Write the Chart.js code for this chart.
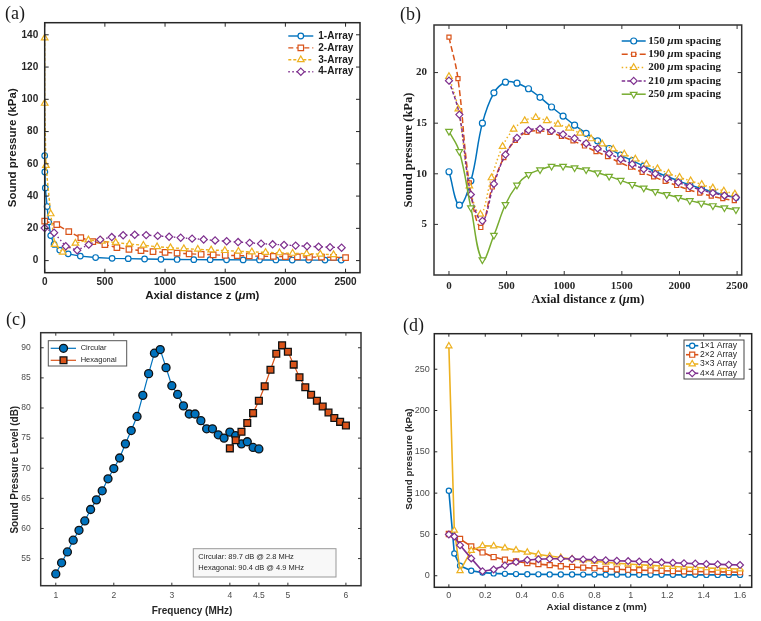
<!DOCTYPE html>
<html><head><meta charset="utf-8">
<script src="https://cdn.jsdelivr.net/npm/chart.js@4.4.1/dist/chart.umd.min.js"></script>
<style>
html,body{margin:0;padding:0;background:#fff;}
#wrap{position:relative;width:761px;height:621px;overflow:hidden;background:#fff;}
canvas{position:absolute;}
</style></head><body>
<div id="wrap">
<canvas id="ca" style="left:0;top:0;" width="380" height="310"></canvas>
<canvas id="cb" style="left:380px;top:0;" width="381" height="310"></canvas>
<canvas id="cc" style="left:0;top:310px;" width="380" height="311"></canvas>
<canvas id="cd" style="left:380px;top:310px;" width="381" height="311"></canvas>
</div>
<script>
// ---------- DATA ----------
// (a) sound pressure (kPa) vs axial distance (um)
const aX1 = [0,1,5,20,33,50,78,125,195,296,423,560,694,830,966,1100,1239,1375,1511,1649,1785,1921,2057,2193,2329,2464];
const aY1 = [65,55,45,33.5,24,15.5,10,6.5,4.2,2.8,1.9,1.4,1.2,1.0,0.8,0.7,0.6,0.55,0.5,0.45,0.4,0.4,0.35,0.3,0.3,0.3];
const aX2 = [0,100,200,300,400,500,600,700,800,900,1000,1100,1200,1300,1400,1500,1600,1700,1800,1900,2000,2100,2200,2300,2400,2500];
const aY2 = [24.5,22.3,18,14.2,11.8,9.9,8.1,7,6.2,5.6,5.1,4.6,4.2,3.9,3.6,3.3,3.1,2.9,2.7,2.6,2.5,2.3,2.2,2.1,2.0,1.9];
const aX3 = [0,0,10,50,83,150,255,363,474,590,704,820,934,1045,1156,1272,1383,1497,1610,1721,1835,1951,2060,2176,2290,2400];
const aY3 = [138,97.5,59,29,10,5.2,10.8,12.8,12,11.2,10.3,9.5,8.6,8,7.4,7,6.6,6.2,5.8,5.4,5.1,4.8,4.5,4.3,4,3.7];
const aX4 = [0,78,175,270,366,461,557,652,748,843,939,1034,1130,1225,1321,1416,1512,1607,1703,1798,1894,1989,2085,2180,2276,2371,2467];
const aY4 = [20.2,17.3,8.9,6.4,9.9,13,14.6,15.7,16,15.8,15.3,14.8,14.2,13.6,13.1,12.5,12,11.5,11,10.5,10.1,9.7,9.3,8.9,8.6,8.3,8.0];
const aNames = ['1-Array','2-Array','3-Array','4-Array'];
const aTicksX = [0,500,1000,1500,2000,2500];
const aTicksY = [0,20,40,60,80,100,120,140];

// (b) spacing comparison
const bXa = [0,90,190,290,390,490,590,690,790,890,990,1090,1190,1290,1390,1490,1590,1690,1790,1890,1990,2090,2190,2290,2390,2490];
const b150 = [10.2,6.9,9.3,15.0,18.0,19.05,18.95,18.4,17.55,16.6,15.7,14.8,14.0,13.25,12.5,11.85,11.3,10.75,10.2,9.75,9.3,8.9,8.55,8.2,7.9,7.65];
const b190x = [0,78,176,276,376,476,576,676,776,876,976,1076,1176,1276,1376,1476,1576,1676,1776,1876,1976,2076,2176,2276,2376,2476];
const b190 = [23.5,19.4,9.1,4.7,8.7,11.6,13.3,14.1,14.25,14.1,13.7,13.25,12.75,12.2,11.7,11.15,10.65,10.15,9.7,9.25,8.85,8.45,8.1,7.8,7.55,7.35];
const b200x = [0,81,177,273,369,465,561,657,753,849,945,1041,1137,1233,1329,1425,1521,1617,1713,1809,1905,2001,2097,2193,2289,2385,2481];
const b200 = [19.6,16.4,8.8,6.0,9.6,12.7,14.4,15.25,15.55,15.25,14.9,14.5,14.0,13.45,12.95,12.45,11.95,11.45,10.95,10.5,10.05,9.65,9.3,8.95,8.6,8.3,8.0];
const b210 = [19.2,15.85,7.95,5.35,9.0,11.9,13.55,14.3,14.45,14.25,13.9,13.5,13.0,12.5,12.0,11.45,10.95,10.45,10.0,9.55,9.15,8.75,8.4,8.1,7.85,7.65];
const b250 = [14.2,12.2,6.65,1.5,3.93,6.96,8.88,9.93,10.4,10.75,10.75,10.6,10.4,10.1,9.75,9.35,8.95,8.6,8.25,7.95,7.65,7.35,7.1,6.85,6.65,6.45];
const bSpacings = ['150','190','200','210','250'];
const bTicksX = [0,500,1000,1500,2000,2500];
const bTicksY = [5,10,15,20];

// (c) SPL vs frequency
const cFreqC = [1.0,1.1,1.2,1.3,1.4,1.5,1.6,1.7,1.8,1.9,2.0,2.1,2.2,2.3,2.4,2.5,2.6,2.7,2.8,2.9,3.0,3.1,3.2,3.3,3.4,3.5,3.6,3.7,3.8,3.9,4.0,4.1,4.2,4.3,4.4,4.5];
const cSplC = [52.45,54.3,56.1,58.05,59.7,61.25,63.15,64.75,66.25,68.25,69.95,71.7,74.05,76.25,78.6,82.1,85.7,89.1,89.7,86.7,83.7,82.25,80.35,79.0,79.0,77.9,76.55,76.55,75.55,75.0,76.0,75.4,74.05,74.4,73.45,73.2];
const cFreqH = [4.0,4.1,4.2,4.3,4.4,4.5,4.6,4.7,4.8,4.9,5.0,5.1,5.2,5.3,5.4,5.5,5.6,5.7,5.8,5.9,6.0];
const cSplH = [73.3,74.65,76.05,77.5,79.15,81.2,83.6,86.35,89.0,90.4,89.35,87.2,85.1,83.45,82.2,81.2,80.25,79.25,78.35,77.7,77.1];
const cNames = ['Circular','Hexagonal'];
const cNotes = ['Circular: 89.7 dB @ 2.8 MHz','Hexagonal: 90.4 dB @ 4.9 MHz'];
const cTicksX = [1,2,3,4,4.5,5,6];
const cTicksY = [55,60,65,70,75,80,85,90];

// (d) arrays, axial distance in mm
const dXa = [0,0.03,0.0615,0.123,0.185,0.246,0.308,0.369,0.431,0.492,0.554,0.615,0.677,0.738,0.8,0.862,0.923,0.985,1.046,1.108,1.169,1.231,1.292,1.354,1.415,1.477,1.538,1.6];
const dXb = [0,0.0615,0.123,0.185,0.246,0.308,0.369,0.431,0.492,0.554,0.615,0.677,0.738,0.8,0.862,0.923,0.985,1.046,1.108,1.169,1.231,1.292,1.354,1.415,1.477,1.538,1.6];
const d11 = [102.8,27,12,6,3.8,2.8,2.3,2,1.8,1.7,1.6,1.5,1.5,1.4,1.4,1.3,1.3,1.3,1.2,1.2,1.2,1.1,1.1,1.1,1.0,1.0,1.0,1.0];
const d22 = [50.5,44.5,35.5,28.2,22.6,19.4,17.4,15.4,14.0,12.8,11.5,10.6,9.8,9.1,8.4,7.8,7.3,6.8,6.4,6.0,5.7,5.4,5.1,4.9,4.7,4.5,4.3];
const d33 = [278,55,6,30.5,36.2,36,33.5,31,28.3,25.8,23.8,22,20.3,18.8,17.5,16.3,15.2,14.2,13.3,12.5,11.8,11.1,10.5,9.9,9.4,8.9,8.5,8.1];
const d44 = [50,47.5,37,21,5.5,7.5,12.5,16.5,19,20,20.5,20.5,20.2,19.8,19.3,18.8,18.2,17.7,17.2,16.7,16.2,15.7,15.2,14.7,14.2,13.8,13.4,13.0];
const dNames = ['1×1 Array','2×2 Array','3×3 Array','4×4 Array'];
const dTicksX = [0,0.2,0.4,0.6,0.8,1,1.2,1.4,1.6];
const dTicksY = [0,50,100,150,200,250];

// ---------- STYLE ----------
const FS = '"Liberation Sans", Arial, sans-serif';
const FT = '"Liberation Serif", "Times New Roman", serif';
const C = {blue:'#0072BD', orange:'#D95319', yellow:'#EDB120', purple:'#7E2F8E', green:'#77AC30'};

function pts(xs, ys){ return xs.map((x,i)=>({x:x, y:ys[i]})); }
function fmt(v){ return String(Math.round(v*1000)/1000); }

function mark(ctx, st, x, y, r, down){
  ctx.beginPath();
  if (st==='circle') ctx.arc(x,y,r,0,Math.PI*2);
  else if (st==='rect'){ const s=r*Math.SQRT1_2; ctx.rect(x-s,y-s,2*s,2*s); }
  else if (st==='rectRot'){ ctx.moveTo(x,y-r); ctx.lineTo(x+r,y); ctx.lineTo(x,y+r); ctx.lineTo(x-r,y); ctx.closePath(); }
  else if (st==='triangle'){ const d = down?Math.PI:0; for(let k=0;k<3;k++){ const an=d+k*2*Math.PI/3; const px=x+Math.sin(an)*r, py=y-Math.cos(an)*r; if(k) ctx.lineTo(px,py); else ctx.moveTo(px,py);} ctx.closePath(); }
}
function richW(ctx, parts){ let w=0; for(const p of parts){ ctx.font=p.f; w+=ctx.measureText(p.t).width; } return w; }
function drawRich(ctx, parts, x, y, opts){
  ctx.save(); ctx.translate(x,y); if(opts.rot) ctx.rotate(-Math.PI/2);
  ctx.fillStyle=opts.color; ctx.textBaseline='middle'; ctx.textAlign='left';
  let cx = opts.center ? -richW(ctx,parts)/2 : 0;
  for(const p of parts){ ctx.font=p.f; ctx.fillText(p.t,cx,0); cx+=ctx.measureText(p.t).width; }
  ctx.restore();
}

const deco = {
  id:'deco',
  afterDraw(chart, args, o){
    const ctx = chart.ctx, a = chart.chartArea;
    ctx.save();
    ctx.setLineDash([]);
    // inward ticks
    ctx.strokeStyle = o.frame; ctx.lineWidth = 1;
    const tl = o.tickLen;
    const sx = chart.scales.x, sy = chart.scales.y;
    ctx.beginPath();
    sx.ticks.forEach(t=>{ const p=sx.getPixelForValue(t.value); ctx.moveTo(p,a.bottom); ctx.lineTo(p,a.bottom-tl); ctx.moveTo(p,a.top); ctx.lineTo(p,a.top+tl); });
    sy.ticks.forEach(t=>{ const p=sy.getPixelForValue(t.value); ctx.moveTo(a.left,p); ctx.lineTo(a.left+tl,p); ctx.moveTo(a.right,p); ctx.lineTo(a.right-tl,p); });
    ctx.stroke();
    // frame
    ctx.lineWidth = o.frameW;
    ctx.strokeRect(a.left, a.top, a.right-a.left, a.bottom-a.top);
    // legend
    const L = o.legend;
    if (L){
      if (L.box){ ctx.fillStyle=L.box.fill; ctx.fillRect(L.box.x,L.box.y,L.box.w,L.box.h); ctx.strokeStyle=L.box.stroke; ctx.lineWidth=L.box.lw; ctx.strokeRect(L.box.x,L.box.y,L.box.w,L.box.h); }
      L.entries.forEach((e,i)=>{
        const y = L.rows[i];
        ctx.strokeStyle=e.color; ctx.lineWidth=e.lw; ctx.setLineDash(e.dash||[]);
        ctx.beginPath(); ctx.moveTo(L.x1,y); ctx.lineTo(L.x2,y); ctx.stroke();
        ctx.setLineDash([]);
        mark(ctx, e.st, L.mx, y, e.r, e.down);
        ctx.fillStyle=e.fill; ctx.fill(); ctx.strokeStyle=e.edge; ctx.lineWidth=e.mlw; ctx.stroke();
        drawRich(ctx, e.parts, L.tx, y, {color:L.color});
      });
    }
    if (o.note){
      const n=o.note;
      ctx.fillStyle=n.fill; ctx.fillRect(n.x,n.y,n.w,n.h); ctx.strokeStyle=n.stroke; ctx.lineWidth=1; ctx.strokeRect(n.x,n.y,n.w,n.h);
      n.lines.forEach((t,i)=> drawRich(ctx,[{t:t,f:n.font}], n.tx, n.rows[i], {color:n.color}));
    }
    // titles
    drawRich(ctx, o.xTitle, o.xTitleX, o.xTitleY, {center:true, color:o.titleColor});
    drawRich(ctx, o.yTitle, o.yTitleX, o.yTitleY, {center:true, rot:true, color:o.titleColor});
    // panel label
    ctx.fillStyle='#1a1a1a'; ctx.font=o.labelFont; ctx.textAlign='left'; ctx.textBaseline='alphabetic';
    ctx.fillText(o.label, o.labelX, o.labelY);
    ctx.restore();
  }
};

function axis(min, max, ticksArr, font, color, pad, size, isX){
  return {
    type:'linear', min:min, max:max,
    grid:{display:false, drawTicks:false}, border:{display:false},
    afterBuildTicks: s => { s.ticks = ticksArr.map(v=>({value:v})); },
    afterFit: s => { if(isX) s.height=size; else s.width=size; },
    ticks:{font:font, color:color, padding:pad, maxRotation:0, autoSkip:false, callback:v=>fmt(v)}
  };
}
function ds(data, color, o){
  return Object.assign({
    data:data, borderColor:color, backgroundColor:color, borderWidth:1.5, borderDash:[],
    pointStyle:'circle', pointRadius:3, pointBorderWidth:1.2, pointBackgroundColor:'#fff', pointBorderColor:color,
    pointHoverRadius:3, tension:0, clip:false, fill:false
  }, o);
}
function make(id, datasets, scales, pad, decoOpts){
  datasets.forEach((d,i)=>{ d.order = datasets.length - i; });
  return new Chart(document.getElementById(id), {
    type:'line',
    data:{datasets:datasets},
    options:{
      responsive:false, animation:false, events:[], parsing:true,
      layout:{padding:pad},
      scales:scales,
      plugins:{legend:{display:false}, tooltip:{enabled:false}, deco:decoOpts}
    },
    plugins:[deco]
  });
}

// ---------- (a) ----------
{
  const tf = {family:FS, size:10, weight:'bold'};
  const titleF = 'bold 11.5px '+FS, titleI = 'italic bold 11.5px '+FS;
  const lf = 'bold 10px '+FS;
  const sty = [
    {color:C.blue, st:'circle', r:2.8, dash:[]},
    {color:C.orange, st:'rect', r:3.9, dash:[5,3]},
    {color:C.yellow, st:'triangle', r:3.8, dash:[3,2]},
    {color:C.purple, st:'rectRot', r:3.6, dash:[1.5,2.5]}
  ];
  const xs=[aX1,aX2,aX3,aX4], ys=[aY1,aY2,aY3,aY4];
  const sets = sty.map((s,i)=>ds(pts(xs[i],ys[i]), s.color, {pointStyle:s.st, pointRadius:s.r, borderDash:s.dash, borderWidth:1.4}));
  make('ca', sets, {
    x: axis(0, 2620, aTicksX, tf, '#262626', 3.5, 37.3, true),
    y: axis(-7.5, 147.5, aTicksY, tf, '#262626', 6.5, 44.7, false)
  }, {left:0, top:22.7, right:20, bottom:0}, {
    label:'(a)', labelX:5, labelY:19, labelFont:'18px '+FT,
    frame:'#262626', frameW:1.5, tickLen:4, titleColor:'#1a1a1a',
    xTitle:[{t:'Axial distance z (',f:titleF},{t:'μ',f:titleI},{t:'m)',f:titleF}], xTitleX:202.3, xTitleY:295.5,
    yTitle:[{t:'Sound pressure (kPa)',f:titleF}], yTitleX:12.5, yTitleY:147.7,
    legend:{x1:288.3, x2:313.3, mx:300.8, tx:318.3, rows:[36,47.9,59.8,71.7], color:'#1a1a1a',
      entries: sty.map((s,i)=>({color:s.color, lw:1.4, dash:s.dash, st:s.st, r:s.r, fill:'#fff', edge:s.color, mlw:1.2, parts:[{t:aNames[i], f:lf}]}))}
  });
}

// ---------- (b) ----------
{
  const tf = {family:FT, size:11, weight:'bold'};
  const titleF = 'bold 12.5px '+FT, titleI = 'italic bold 12.5px '+FT;
  const lf = 'bold 11px '+FT, li = 'italic bold 11px '+FT;
  const sty = [
    {color:C.blue, st:'circle', r:3, dash:[], down:false},
    {color:C.orange, st:'rect', r:2.9, dash:[6,3], down:false},
    {color:C.yellow, st:'triangle', r:3.8, dash:[1.5,2.5], down:false},
    {color:C.purple, st:'rectRot', r:3.5, dash:[3.5,2], down:false},
    {color:C.green, st:'triangle', r:3.8, dash:[], down:true}
  ];
  const xs=[bXa,b190x,b200x,bXa,bXa], ys=[b150,b190,b200,b210,b250];
  const sets = sty.map((s,i)=>ds(pts(xs[i],ys[i]), s.color, {pointStyle:s.st, pointRadius:s.r, pointRotation:s.down?180:0, borderDash:s.dash, borderWidth:1.5, tension:0.4}));
  make('cb', sets, {
    x: axis(-130, 2540, bTicksX, tf, '#262626', 5, 35, true),
    y: axis(0, 24.7, bTicksY, tf, '#262626', 7, 54, false)
  }, {left:0, top:25, right:19.3, bottom:0}, {
    label:'(b)', labelX:20, labelY:20, labelFont:'18px '+FT,
    frame:'#333333', frameW:1.5, tickLen:4, titleColor:'#1a1a1a',
    xTitle:[{t:'Axial distance z (',f:titleF},{t:'μ',f:titleI},{t:'m)',f:titleF}], xTitleX:207.9, xTitleY:299.5,
    yTitle:[{t:'Sound pressure (kPa)',f:titleF}], yTitleX:29, yTitleY:150,
    legend:{x1:241.7, x2:265.7, mx:253.7, tx:268.3, rows:[41,54.3,67.6,80.9,94.2], color:'#1a1a1a',
      entries: sty.map((s,i)=>({color:s.color, lw:1.5, dash:s.dash, st:s.st, r:s.r, down:s.down, fill:'#fff', edge:s.color, mlw:1.2,
        parts:[{t:bSpacings[i]+' ', f:lf},{t:'μ',f:li},{t:'m spacing',f:lf}]}))}
  });
}

// ---------- (c) ----------
{
  const tf = {family:FS, size:8.5};
  const titleF = 'bold 10px '+FS;
  const lf = '7.5px '+FS;
  const sets = [
    ds(pts(cFreqC,cSplC), C.blue, {pointStyle:'circle', pointRadius:4, pointBackgroundColor:C.blue, pointBorderColor:'#111', pointBorderWidth:1.3, borderWidth:1.2}),
    ds(pts(cFreqH,cSplH), C.orange, {pointStyle:'rect', pointRadius:4.8, pointBackgroundColor:C.orange, pointBorderColor:'#111', pointBorderWidth:1.3, borderWidth:1.2})
  ];
  make('cc', sets, {
    x: axis(0.74, 6.26, cTicksX, tf, '#4d4d4d', 5, 35.3, true),
    y: axis(50.5, 92.5, cTicksY, tf, '#4d4d4d', 10, 40.7, false)
  }, {left:0, top:22.7, right:19, bottom:0}, {
    label:'(c)', labelX:6, labelY:15, labelFont:'18px '+FT,
    frame:'#333333', frameW:1.5, tickLen:3, titleColor:'#262626',
    xTitle:[{t:'Frequency (MHz)',f:'bold 10px '+FS}], xTitleX:192, xTitleY:301.7,
    yTitle:[{t:'Sound Pressure Level (dB)',f:titleF}], yTitleX:15, yTitleY:159.7,
    legend:{box:{x:48.3,y:30.7,w:78.4,h:25.3,fill:'#fff',stroke:'#555',lw:1}, x1:50.7, x2:76, mx:63.5, tx:80.7, rows:[38.3,50.3], color:'#262626',
      entries:[
        {color:C.blue, lw:1.2, dash:[], st:'circle', r:4, fill:C.blue, edge:'#111', mlw:1.3, parts:[{t:cNames[0],f:lf}]},
        {color:C.orange, lw:1.2, dash:[], st:'rect', r:4.8, fill:C.orange, edge:'#111', mlw:1.3, parts:[{t:cNames[1],f:lf}]}
      ]},
    note:{x:193.3, y:238.7, w:142.7, h:28.3, fill:'#f8f8f8', stroke:'#999', tx:198.3, rows:[247.3,257.7], font:lf, color:'#262626', lines:cNotes}
  });
}

// ---------- (d) ----------
{
  const tf = {family:FS, size:9};
  const titleF = 'bold 9.8px '+FS;
  const lf = '8.5px '+FS;
  const sty = [
    {color:C.blue, st:'circle', r:2.6},
    {color:C.orange, st:'rect', r:3.6},
    {color:C.yellow, st:'triangle', r:3.6},
    {color:C.purple, st:'rectRot', r:3.4}
  ];
  const xs=[dXa,dXb,dXa,dXa], ys=[d11,d22,d33,d44];
  const sets = sty.map((s,i)=>ds(pts(xs[i],ys[i]), s.color, {pointStyle:s.st, pointRadius:s.r, borderWidth:1.6, pointBorderWidth:1.2}));
  make('cd', sets, {
    x: axis(-0.08, 1.664, dTicksX, tf, '#4d4d4d', 3, 33.7, true),
    y: axis(-14, 293, dTicksY, tf, '#4d4d4d', 4.5, 54.3, false)
  }, {left:0, top:23.7, right:9.3, bottom:0}, {
    label:'(d)', labelX:23, labelY:20.5, labelFont:'18px '+FT,
    frame:'#262626', frameW:1.5, tickLen:3, titleColor:'#262626',
    xTitle:[{t:'Axial distance z (mm)',f:titleF}], xTitleX:216.7, xTitleY:297,
    yTitle:[{t:'Sound pressure (kPa)',f:titleF}], yTitleX:29, yTitleY:149,
    legend:{box:{x:304,y:30,w:60,h:39,fill:'#fff',stroke:'#444',lw:1}, x1:306, x2:318.3, mx:312.2, tx:320, rows:[35.7,44.7,54,63.3], color:'#262626',
      entries: sty.map((s,i)=>({color:s.color, lw:1.6, dash:[], st:s.st, r:s.r, fill:'#fff', edge:s.color, mlw:1.2, parts:[{t:dNames[i], f:lf}]}))}
  });
}
</script>
</body></html>
